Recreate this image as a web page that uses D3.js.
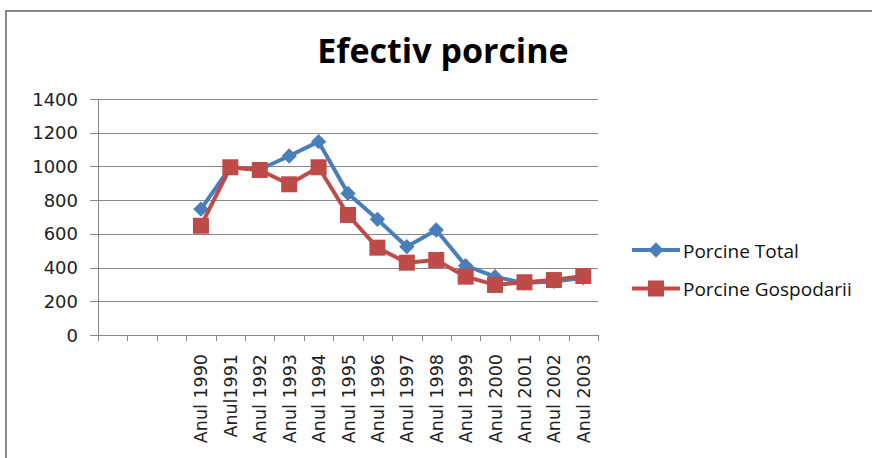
<!DOCTYPE html>
<html>
<head>
<meta charset="utf-8">
<script src="https://cdn.jsdelivr.net/npm/d3@7"></script>
<style>
  body { margin: 0; background: #fff; }
</style>
</head>
<body>
<div id="chart"></div>
<script>
// Chart size
var chart_width  = 872;
var chart_height = 458;

// Data
var categories = ['', '', '', 'Anul 1990', 'Anul1991', 'Anul 1992', 'Anul 1993', 'Anul 1994',
  'Anul 1995', 'Anul 1996', 'Anul 1997', 'Anul 1998', 'Anul 1999', 'Anul 2000',
  'Anul 2001', 'Anul 2002', 'Anul 2003'];
var porcine_total = [null, null, null, 747, 995, 982, 1062, 1147, 840, 686, 524, 623, 411, 346, 308, 318, 340];
var porcine_gospodarii = [null, null, null, 648, 995, 979, 894, 995, 712, 518, 429, 445, 346, 297, 313, 326, 350];
var y_ticks = [0, 200, 400, 600, 800, 1000, 1200, 1400];
var series = [
  { name: 'Porcine Total', values: porcine_total, color: '#4A7EBB', marker: 'diamond' },
  { name: 'Porcine Gospodarii', values: porcine_gospodarii, color: '#BE4B48', marker: 'square' }
];

var svg = d3.select('#chart')
  .append('svg')
  .attr('width', chart_width)
  .attr('height', chart_height);

// outer frame
svg.append('rect')
  .attr('x', 6).attr('y', 11)
  .attr('width', 1000).attr('height', 1000)
  .attr('fill', 'none')
  .attr('stroke', '#878787')
  .attr('stroke-width', 2);

// title
svg.append('text')
  .attr('x', 443).attr('y', 63)
  .attr('text-anchor', 'middle')
  .attr('font-family', 'Open Sans')
  .attr('font-weight', 'bold')
  .attr('font-size', 34)
  .attr('fill', '#000')
  .text('Efectiv porcine');

// scales
var x = d3.scaleBand().domain(d3.range(categories.length)).range([98, 598]);
var y = d3.scaleLinear().domain([0, 1400]).range([335, 99]);

// grid lines (with the little tick left of the axis)
svg.append('g')
  .selectAll('line')
  .data(y_ticks)
  .enter()
  .append('line')
  .attr('x1', 90).attr('x2', 598)
  .attr('y1', function(d){ return Math.round(y(d)) + 0.5; })
  .attr('y2', function(d){ return Math.round(y(d)) + 0.5; })
  .attr('stroke', '#878787')
  .attr('stroke-width', 1);

// y labels
svg.append('g')
  .selectAll('text')
  .data(y_ticks)
  .enter()
  .append('text')
  .attr('x', 78)
  .attr('y', function(d){ return y(d) + 6.5; })
  .attr('text-anchor', 'end')
  .attr('font-family', 'DejaVu Sans')
  .attr('font-size', 18)
  .attr('fill', '#222')
  .text(function(d){ return d; });

// y axis line
svg.append('line')
  .attr('x1', 98.5).attr('x2', 98.5)
  .attr('y1', 99).attr('y2', 341)
  .attr('stroke', '#878787');

// x axis ticks
var x_ticks = d3.range(categories.length + 1).map(function(i){
  return i < categories.length ? x(i) : x.range()[1];
});
svg.append('g')
  .selectAll('line')
  .data(x_ticks)
  .enter()
  .append('line')
  .attr('x1', function(d){ return Math.round(d) + 0.5; })
  .attr('x2', function(d){ return Math.round(d) + 0.5; })
  .attr('y1', 335).attr('y2', 341)
  .attr('stroke', '#878787');

// x labels, rotated
svg.append('g')
  .selectAll('text')
  .data(categories)
  .enter()
  .append('text')
  .attr('transform', function(d, i){
    return 'translate(' + (x(i) + x.bandwidth() / 2) + ',354) rotate(-90)';
  })
  .attr('x', 0)
  .attr('y', 6.5)
  .attr('text-anchor', 'end')
  .attr('font-family', 'DejaVu Sans')
  .attr('font-size', 17.5)
  .attr('fill', '#222')
  .text(function(d){ return d; });

// lines and markers
var line = d3.line()
  .defined(function(d){ return d != null; })
  .x(function(d, i){ return x(i) + x.bandwidth() / 2; })
  .y(function(d){ return y(d); });

var diamond = d3.symbol().type(d3.symbolDiamond2).size(150);

series.forEach(function(s){
  svg.append('path')
    .attr('d', line(s.values))
    .attr('fill', 'none')
    .attr('stroke', s.color)
    .attr('stroke-width', 4)
    .attr('stroke-linejoin', 'round');

  var pts = s.values.map(function(v, i){ return { v: v, i: i }; })
    .filter(function(d){ return d.v != null; });

  if (s.marker === 'square') {
    svg.append('g').selectAll('rect')
      .data(pts)
      .enter()
      .append('rect')
      .attr('x', function(d){ return x(d.i) + x.bandwidth() / 2 - 8; })
      .attr('y', function(d){ return y(d.v) - 8; })
      .attr('width', 16).attr('height', 16)
      .attr('fill', s.color);
  } else {
    svg.append('g').selectAll('path')
      .data(pts)
      .enter()
      .append('path')
      .attr('d', diamond)
      .attr('transform', function(d){
        return 'translate(' + (x(d.i) + x.bandwidth() / 2) + ',' + y(d.v) + ')';
      })
      .attr('fill', s.color);
  }
});

// legend
var legend = svg.append('g');
series.forEach(function(s, i){
  var ly = 250 + i * 38.5;
  legend.append('line')
    .attr('x1', 632).attr('x2', 680)
    .attr('y1', ly).attr('y2', ly)
    .attr('stroke', s.color)
    .attr('stroke-width', 4);
  if (s.marker === 'square') {
    legend.append('rect')
      .attr('x', 648).attr('y', ly - 8)
      .attr('width', 16).attr('height', 16)
      .attr('fill', s.color);
  } else {
    legend.append('path')
      .attr('d', diamond)
      .attr('transform', 'translate(656,' + ly + ')')
      .attr('fill', s.color);
  }
  legend.append('text')
    .attr('x', 683).attr('y', ly + 7.5)
    .attr('font-family', 'Open Sans')
    .attr('font-size', 19)
    .attr('fill', '#111')
    .text(s.name);
});
</script>
</body>
</html>
